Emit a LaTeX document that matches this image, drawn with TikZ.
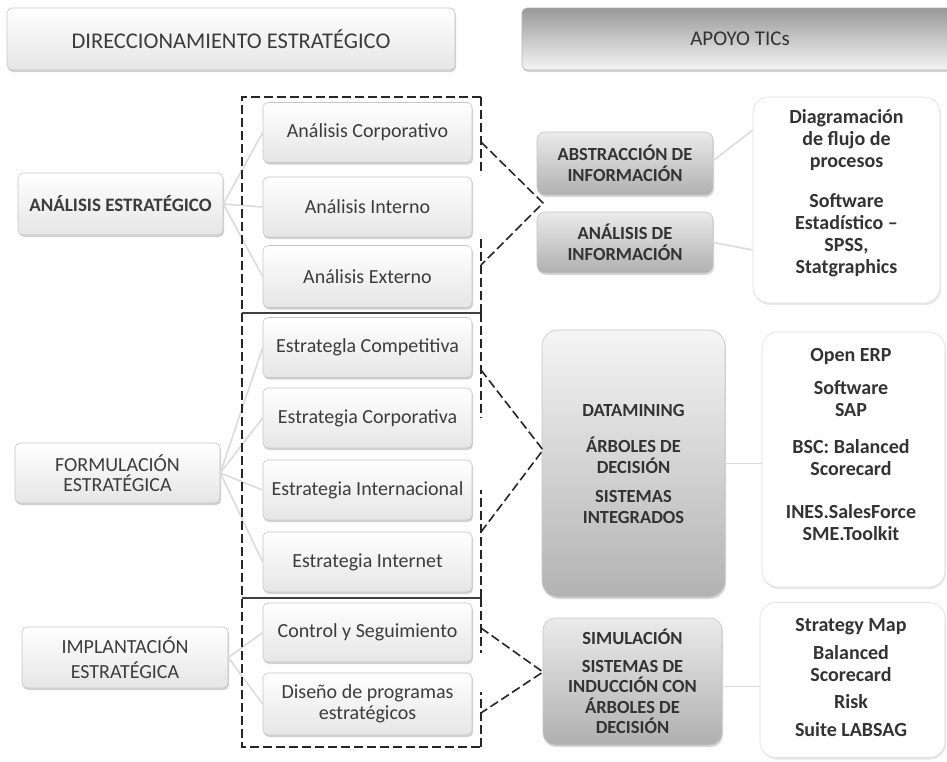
\documentclass[tikz,border=0pt]{standalone}
\usepackage{fontspec}
\setmainfont{Carlito}
\usetikzlibrary{shadows}
\definecolor{txt}{HTML}{3C3C3C}
\definecolor{txtd}{HTML}{333333}
\begin{document}
\begin{tikzpicture}[x=1pt,y=-1pt,
  lbox/.style={draw=gray!45, line width=0.6pt, rounded corners=5pt, top color=white, bottom color=gray!20,
    drop shadow={opacity=0.35, shadow xshift=1pt, shadow yshift=-2pt}, text=txt,
    font=\fontsize{20}{21}\selectfont, align=center, inner sep=1pt},
  hdark/.style={draw=gray!60, line width=0.6pt, rounded corners=5pt, top color=gray!80, bottom color=gray!8,
    drop shadow={opacity=0.35, shadow xshift=1pt, shadow yshift=-2pt}, text=txtd,
    font=\fontsize{21}{22}\selectfont, align=center},
  gbox/.style={draw=gray!45, line width=0.6pt, rounded corners=8pt, top color=gray!16, bottom color=gray!62,
    drop shadow={opacity=0.3, shadow xshift=1pt, shadow yshift=-2pt}, text=txtd,
    font=\bfseries\fontsize{18.5}{20.5}\selectfont, align=center, inner sep=1pt},
  rbox/.style={draw=gray!25, line width=0.6pt, rounded corners=16pt, fill=white,
    drop shadow={opacity=0.18, shadow xshift=1pt, shadow yshift=-2pt}},
  rtext/.style={text=txtd, font=\bfseries\fontsize{20}{22}\selectfont, align=center, inner sep=0pt},
  conn/.style={draw=gray!28, line width=1.6pt},
  dashline/.style={draw=black!85, line width=1.6pt, dash pattern=on 9pt off 4pt},
  sepline/.style={draw=black!75, line width=1.4pt}
]
\useasboundingbox[fill=white] (0,0) rectangle (947,761);

% headers
\node[lbox, minimum width=448pt, minimum height=62pt, font=\fontsize{22.5}{24}\selectfont] (hdrL) at (231,39) {DIRECCIONAMIENTO ESTRATÉGICO};
\node[hdark, minimum width=436pt, minimum height=62pt] (hdrR) at (740,39) {APOYO TICs};

% left column
\node[lbox, font=\bfseries\fontsize{19}{21}\selectfont, minimum width=205pt, minimum height=62pt] (as) at (120.5,204) {ANÁLISIS ESTRATÉGICO};
\node[lbox, minimum width=205pt, minimum height=60pt, font=\fontsize{20}{20}\selectfont] (fs) at (117.5,473) {FORMULACIÓN\\ESTRATÉGICA};
\node[lbox, minimum width=206pt, minimum height=61pt, font=\fontsize{20}{25}\selectfont] (is) at (125,657.5) {IMPLANTACIÓN\\ESTRATÉGICA};

% middle column
\node[lbox, minimum width=209pt, minimum height=60pt] (ac) at (367.5,132.5) {Análisis Corporativo};
\node[lbox, minimum width=209pt, minimum height=60pt] (ai) at (367.5,207) {Análisis Interno};
\node[lbox, minimum width=209pt, minimum height=62pt] (ae) at (367.5,276.5) {Análisis Externo};
\node[lbox, minimum width=209pt, minimum height=60pt] (ec) at (367.5,347.5) {Estrategla Competitiva};
\node[lbox, minimum width=209pt, minimum height=60pt] (eco) at (367.5,418) {Estrategia Corporativa};
\node[lbox, minimum width=209pt, minimum height=60pt] (ei) at (367.5,490) {Estrategia Internacional};
\node[lbox, minimum width=209pt, minimum height=60pt] (ein) at (367.5,562) {Estrategia Internet};
\node[lbox, minimum width=209pt, minimum height=59pt] (cs) at (367.5,632.5) {Control y Seguimiento};
\node[lbox, minimum width=209pt, minimum height=62pt] (dp) at (367.5,704) {Diseño de programas\\estratégicos};

% left connectors
\foreach \t in {ac,ai,ae} \draw[conn] (as.east) -- (\t.west);
\foreach \t in {ec,eco,ei,ein} \draw[conn] (fs.east) -- (\t.west);
\foreach \t in {cs,dp} \draw[conn] (is.east) -- (\t.west);

% gray boxes
\node[gbox, minimum width=176pt, minimum height=63pt] (abs) at (625,163.5) {ABSTRACCIÓN DE\\INFORMACIÓN};
\node[gbox, minimum width=176pt, minimum height=61pt] (adi) at (625,242.5) {ANÁLISIS DE\\INFORMACIÓN};
\node[gbox, rounded corners=16pt, top color=gray!8, bottom color=gray!60, minimum width=183pt, minimum height=267pt] (dm) at (633.5,463.5)
  {DATAMINING\\[16pt]ÁRBOLES DE\\DECISIÓN\\[9pt]SISTEMAS\\INTEGRADOS};
\node[gbox, rounded corners=12pt, minimum width=179pt, minimum height=127pt] (sim) at (632.5,681.5)
  {SIMULACIÓN\\[7pt]SISTEMAS DE\\INDUCCIÓN CON\\ÁRBOLES DE\\DECISIÓN};

% right boxes
\node[rbox, minimum width=187pt, minimum height=206pt] (r1) at (846.5,200) {};
\node[rtext] (r1t) at (846.5,193.5) {Diagramación\\de flujo de\\procesos\\[18pt]Software\\Estadístico –\\SPSS,\\Statgraphics};
\node[rbox, minimum width=183pt, minimum height=255pt] (r2) at (853.5,459.5) {};
\node[rtext] (r2t) at (851,445) {Open ERP\\[11pt]Software\\SAP\\[15pt]BSC: Balanced\\Scorecard\\[21pt]INES.SalesForce\\SME.Toolkit};
\node[rbox, minimum width=185pt, minimum height=155pt] (r3) at (852.5,680) {};
\node[rtext] (r3t) at (851,677.5) {Strategy Map\\[6pt]Balanced\\Scorecard\\[5pt]Risk\\[6pt]Suite LABSAG};

% right connectors
\coordinate (absc) at ([yshift=3pt]abs.east);
\coordinate (simc) at ([yshift=-5pt]sim.east);
\draw[conn] (absc) -- ([yshift=70pt]r1.west);
\draw[conn] (adi.east) -- ([yshift=-50pt]r1.west);
\draw[conn] (dm.east) -- (r2.west |- dm.east);
\draw[conn] (simc) -- (r3.west |- simc);

% dashed frames
\coordinate (fA) at (481,97);
\coordinate (fB) at (242,97);
\coordinate (fC) at (242,747);
\coordinate (fD) at (481,747);
\draw[dashline] (fA) -- (fB) -- (fC) -- (fD);
\coordinate (s1l) at (242,313); \coordinate (s1r) at (481,313);
\coordinate (s2l) at (242,598); \coordinate (s2r) at (481,598);
\draw[sepline] (s1l) -- (s1r);
\draw[sepline] (s2l) -- (s2r);
% right edge pieces
\coordinate (e1) at (481,175); \coordinate (e2) at (481,235);
\coordinate (e3) at (481,418); \coordinate (e4) at (481,490);
\coordinate (e5) at (481,653); \coordinate (e6) at (481,692);
\draw[dashline] (fA) -- (e1);
\draw[dashline] (s1r) -- (e2);
\draw[dashline] (s1r) -- (e3);
\draw[dashline] (s2r) -- (e4);
\draw[dashline] (s2r) -- (e5);
\draw[dashline] (fD) -- (e6);
% brackets
\coordinate (a1) at (481,142); \coordinate (v1) at (543,203); \coordinate (b1) at (481,265);
\coordinate (a2) at (481,370); \coordinate (v2) at (543,450); \coordinate (b2) at (481,532);
\coordinate (a3) at (481,628); \coordinate (v3) at (543,672); \coordinate (b3) at (481,713);
\draw[dashline] (a1) -- (v1) -- (b1);
\draw[dashline] (a2) -- (v2) -- (b2);
\draw[dashline] (a3) -- (v3) -- (b3);
\end{tikzpicture}
\end{document}
